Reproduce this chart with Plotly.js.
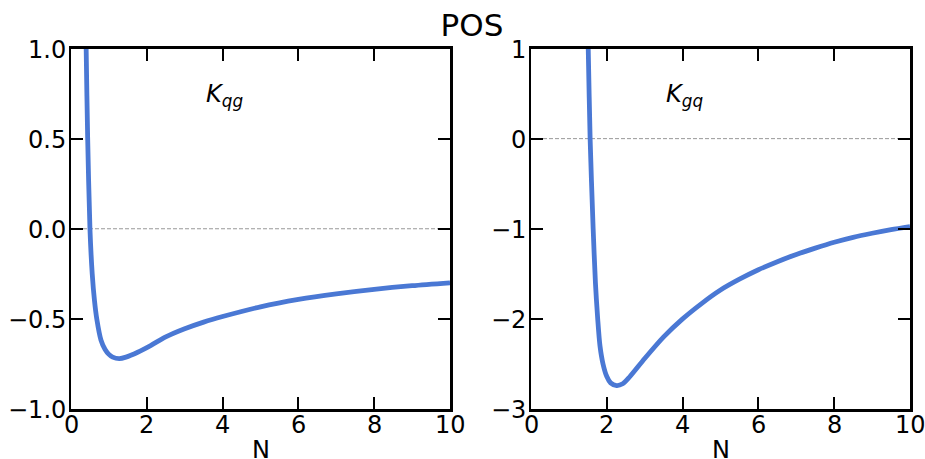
<!DOCTYPE html>
<html>
<head>
<meta charset="utf-8">
<script src="https://cdn.plot.ly/plotly-3.0.1.min.js"></script>
<style>html,body{margin:0;padding:0;background:#fff;}#chart{width:925px;height:459px;}</style>
</head>
<body>
<div id="chart"></div>
<script>
// Left panel: K_qg
const nQG = [0.38, 0.40, 0.44, 0.50, 0.56, 0.62, 0.68, 0.79, 0.90, 1.0, 1.1, 1.27, 1.45, 1.76, 2.1, 2.5, 3.0, 3.5, 4.0, 5.0, 6.0, 7.0, 8.0, 9.0, 10.0];
const kQG = [1.3, 1.0, 0.5, 0.0, -0.25, -0.40, -0.50, -0.617, -0.67, -0.697, -0.712, -0.72, -0.712, -0.685, -0.648, -0.60, -0.555, -0.518, -0.487, -0.433, -0.392, -0.361, -0.336, -0.316, -0.30];
// Right panel: K_gq
const nGQ = [1.49, 1.51, 1.56, 1.64, 1.70, 1.76, 1.82, 1.90, 2.0, 2.1, 2.26, 2.42, 2.6, 3.0, 3.5, 4.0, 4.5, 5.0, 5.5, 6.0, 6.5, 7.0, 7.5, 8.0, 8.5, 9.0, 9.5, 10.0];
const kGQ = [1.3, 1.0, 0.0, -1.0, -1.6, -2.0, -2.3, -2.5, -2.64, -2.71, -2.74, -2.72, -2.645, -2.44, -2.2, -2.0, -1.83, -1.68, -1.56, -1.455, -1.365, -1.285, -1.215, -1.15, -1.095, -1.05, -1.01, -0.975];
const refX = [0, 10];
const refY = [0, 0];
const xTicks = [0, 2, 4, 6, 8, 10];
const xText = ['0', '2', '4', '6', '8', '10'];
const yTicksL = [1.0, 0.5, 0.0, -0.5, -1.0];
const yTextL = ['1.0', '0.5', '0.0', '\u22120.5', '\u22121.0'];
const yTicksR = [1, 0, -1, -2, -3];
const yTextR = ['1', '0', '\u22121', '\u22122', '\u22123'];
const xRange = [0, 10];
const yRangeL = [-1, 1];
const yRangeR = [-3, 1];
const titleText = 'POS';
const xLabel = 'N';
const labelL = '<i>K</i><sub><i>qg</i></sub>';
const labelR = '<i>K</i><sub><i>gq</i></sub>';

const blue = '#4a78d4';
const font = 'DejaVu Sans, sans-serif';
const tickFont = {family: font, size: 24, color: '#000'};

const traces = [
  {x: refX, y: refY, xaxis: 'x', yaxis: 'y', mode: 'lines', line: {color: '#999999', width: 1, dash: '4px,2px'}, hoverinfo: 'skip', showlegend: false},
  {x: refX, y: refY, xaxis: 'x2', yaxis: 'y2', mode: 'lines', line: {color: '#999999', width: 1, dash: '4px,2px'}, hoverinfo: 'skip', showlegend: false},
  {x: nQG, y: kQG, xaxis: 'x', yaxis: 'y', mode: 'lines', line: {color: blue, width: 4.8, shape: 'spline', smoothing: 0.8}, showlegend: false},
  {x: nGQ, y: kGQ, xaxis: 'x2', yaxis: 'y2', mode: 'lines', line: {color: blue, width: 4.8, shape: 'spline', smoothing: 0.8}, showlegend: false}
];

const axisCommon = {
  showline: true, linecolor: '#000', linewidth: 2.5, mirror: 'ticks',
  ticks: 'inside', ticklen: 12, tickwidth: 2, tickcolor: '#000',
  showgrid: false, zeroline: false, showticklabels: false
};

// Tick labels placed through the axes' own scales as annotations
const annotations = [];
function addX(xa, ya) {
  xTicks.forEach((v, i) => annotations.push({text: xText[i], xref: xa, yref: ya + ' domain', x: v, y: 0, xanchor: 'center', yanchor: 'middle', yshift: -16, showarrow: false, font: tickFont}));
  annotations.push({text: xLabel, xref: xa + ' domain', yref: ya + ' domain', x: 0.5, y: 0, xanchor: 'center', yanchor: 'middle', yshift: -41, showarrow: false, font: tickFont});
}
function addY(xa, ya, vals, texts) {
  vals.forEach((v, i) => annotations.push({text: texts[i], xref: xa + ' domain', yref: ya, x: 0, y: v, xanchor: 'right', yanchor: 'middle', xshift: -3, yshift: -1, showarrow: false, font: tickFont}));
}
addX('x', 'y'); addX('x2', 'y2');
addY('x', 'y', yTicksL, yTextL); addY('x2', 'y2', yTicksR, yTextR);
annotations.push({text: labelL, xref: 'x', yref: 'y domain', x: 3.5, y: 0.871, xanchor: 'left', yanchor: 'middle', showarrow: false, font: {family: font, size: 24, color: '#000'}});
annotations.push({text: labelR, xref: 'x2', yref: 'y2 domain', x: 3.5, y: 0.871, xanchor: 'left', yanchor: 'middle', showarrow: false, font: {family: font, size: 24, color: '#000'}});

const layout = {
  width: 925, height: 459,
  margin: {l: 0, r: 0, t: 0, b: 0},
  paper_bgcolor: '#fff', plot_bgcolor: '#fff',
  title: {text: titleText, x: 472/925, xanchor: 'center', y: 1 - 25/459, yanchor: 'middle', xref: 'paper', yref: 'paper', font: {family: font, size: 31, color: '#000'}},
  xaxis: Object.assign({}, axisCommon, {domain: [71/925, 450/925], range: xRange, tickvals: xTicks, anchor: 'y'}),
  yaxis: Object.assign({}, axisCommon, {domain: [1 - 409/459, 1 - 48.5/459], range: yRangeL, tickvals: yTicksL, anchor: 'x'}),
  xaxis2: Object.assign({}, axisCommon, {domain: [531/925, 910/925], range: xRange, tickvals: xTicks, anchor: 'y2'}),
  yaxis2: Object.assign({}, axisCommon, {domain: [1 - 409/459, 1 - 48.5/459], range: yRangeR, tickvals: yTicksR, anchor: 'x2'}),
  annotations: annotations
};

Plotly.newPlot('chart', traces, layout, {staticPlot: true, displayModeBar: false});
</script>
</body>
</html>
